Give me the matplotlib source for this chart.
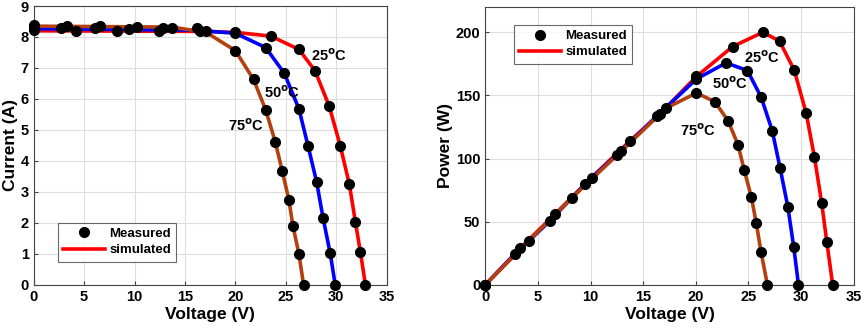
import numpy as np
import matplotlib
matplotlib.use("Agg")
import matplotlib.pyplot as plt

plt.rcParams['font.family'] = ['Liberation Sans', 'DejaVu Sans']
plt.rcParams['font.weight'] = 'bold'

# ---- I-V data (measured points) ----
v25_m = [0, 3.3, 6.6, 10.2, 13.7, 16.5, 20.0, 23.5, 26.3, 27.9, 29.3, 30.4, 31.3, 31.9, 32.4, 32.9]
i25_m = [8.3, 8.35, 8.35, 8.32, 8.3, 8.2, 8.15, 8.03, 7.6, 6.91, 5.77, 4.49, 3.25, 2.03, 1.05, 0]
v50_m = [0, 2.7, 6.05, 9.4, 12.8, 16.2, 20.0, 23.0, 24.85, 26.3, 27.2, 28.05, 28.7, 29.4, 29.9]
i50_m = [8.22, 8.28, 8.28, 8.25, 8.3, 8.28, 8.12, 7.66, 6.83, 5.68, 4.49, 3.33, 2.15, 1.02, 0]
v75_m = [0, 4.2, 8.3, 12.4, 17.1, 20.0, 21.8, 23.0, 23.95, 24.65, 25.3, 25.7, 26.3, 26.76]
i75_m = [8.4, 8.2, 8.18, 8.18, 8.18, 7.56, 6.63, 5.65, 4.62, 3.67, 2.75, 1.91, 1.0, 0]

# ---- I-V simulated ----
v25_s = [0, 17, 20, 23.5, 26.3, 27.9, 29.3, 30.4, 31.3, 31.9, 32.4, 32.9]
i25_s = [8.2, 8.18, 8.15, 8.03, 7.6, 6.91, 5.77, 4.49, 3.25, 2.03, 1.05, 0]
v50_s = [0, 16, 20, 23.0, 24.85, 26.3, 27.2, 28.05, 28.7, 29.4, 29.9]
i50_s = [8.27, 8.22, 8.12, 7.66, 6.83, 5.68, 4.49, 3.33, 2.15, 1.02, 0]
v75_s = [0, 13.7, 17.1, 20.0, 21.8, 23.0, 23.95, 24.65, 25.3, 25.7, 26.3, 26.76]
i75_s = [8.35, 8.32, 8.15, 7.56, 6.63, 5.65, 4.62, 3.67, 2.75, 1.91, 1.0, 0]

# ---- P-V data ----
v25_p = [0, 3.3, 6.6, 10.1, 13.7, 16.6, 20.06, 23.5, 26.37, 27.95, 29.35, 30.48, 31.27, 31.96, 32.44, 33.0]
p25_p = [0, 29, 55.8, 85, 113.7, 135.5, 165, 188.7, 200, 193, 170, 136, 101, 64.5, 34, 0]
v50_p = [0, 2.84, 6.16, 9.5, 12.86, 16.27, 20.06, 22.87, 24.9, 26.2, 27.26, 28.0, 28.74, 29.3, 29.75]
p50_p = [0, 24.5, 50.8, 80, 105.8, 133.4, 163, 175.8, 169.7, 148.7, 122, 92.6, 61.8, 30, 0]
v75_p = [0, 4.14, 8.2, 12.5, 17.2, 20.06, 21.8, 23.06, 24.0, 24.6, 25.27, 25.74, 26.2, 26.8]
p75_p = [0, 35, 68.7, 102.6, 140, 152, 145, 130, 111, 90.8, 69.7, 49, 25.8, 0]

colors = ['#ff0000', '#0000ff', '#b3400e']
labels = ['25', '50', '75']

fig = plt.figure(figsize=(8.65, 3.34), dpi=100)
ax1 = fig.add_axes([0.039, 0.147, 0.408, 0.835])
ax2 = fig.add_axes([0.561, 0.147, 0.426, 0.832])

lw = 2.6
ms = 7

def style(ax):
    ax.grid(True, color='#dddddd', linewidth=0.8)
    ax.set_axisbelow(True)
    ax.tick_params(direction='in', labelsize=10.5, length=3, color='#444444')
    for s in ax.spines.values():
        s.set_color('#444444')
        s.set_linewidth(0.8)
    for t in ax.get_xticklabels() + ax.get_yticklabels():
        t.set_fontweight('bold')

# I-V
sim = [(v25_s, i25_s), (v50_s, i50_s), (v75_s, i75_s)]
meas = [(v25_m, i25_m), (v50_m, i50_m), (v75_m, i75_m)]
for (vs, is_), c in zip(sim, colors):
    ax1.plot(vs, is_, color=c, lw=lw, zorder=2)
for vm, im in meas:
    ax1.plot(vm, im, 'o', color='black', ms=ms, zorder=3, clip_on=False)
ax1.set_xlim(0, 35)
ax1.set_ylim(0, 9)
ax1.set_xticks(np.arange(0, 36, 5))
ax1.set_yticks(np.arange(0, 10, 1))
ax1.set_xlabel('Voltage (V)', fontsize=12.5, fontweight='bold', labelpad=2)
ax1.set_ylabel('Current (A)', fontsize=12.5, fontweight='bold', labelpad=2)
ax1.text(27.5, 7.4, r'25$^{\mathbf{o}}$C', fontsize=10.5, fontweight='bold', va='center')
ax1.text(22.8, 6.2, r'50$^{\mathbf{o}}$C', fontsize=10.5, fontweight='bold', va='center')
ax1.text(19.3, 5.15, r'75$^{\mathbf{o}}$C', fontsize=10.5, fontweight='bold', va='center')
style(ax1)
h1, = ax1.plot([], [], 'o', color='black', ms=ms)
h2, = ax1.plot([], [], color='#ff0000', lw=lw)
leg = ax1.legend([h1, h2], ['Measured', 'simulated'], loc='lower left',
                 bbox_to_anchor=(0.05, 0.06), fancybox=False, edgecolor='#444444',
                 handlelength=3.2, prop={'weight': 'bold', 'size': 9.5},
                 borderpad=0.4, labelspacing=0.3, handletextpad=0.3)
leg.get_frame().set_linewidth(0.8)

# P-V
psets = [(v25_p, p25_p), (v50_p, p50_p), (v75_p, p75_p)]
for (vp, pp), c in zip(psets, colors):
    ax2.plot(vp, pp, color=c, lw=lw, zorder=2)
for vp, pp in psets:
    ax2.plot(vp, pp, 'o', color='black', ms=ms, zorder=3, clip_on=False)
ax2.set_xlim(0, 35)
ax2.set_ylim(0, 220)
ax2.set_xticks(np.arange(0, 36, 5))
ax2.set_yticks(np.arange(0, 201, 50))
ax2.set_xlabel('Voltage (V)', fontsize=12.5, fontweight='bold', labelpad=2)
ax2.set_ylabel('Power (W)', fontsize=12.5, fontweight='bold', labelpad=2)
ax2.text(24.6, 180, r'25$^{\mathbf{o}}$C', fontsize=10.5, fontweight='bold', va='center')
ax2.text(21.5, 159, r'50$^{\mathbf{o}}$C', fontsize=10.5, fontweight='bold', va='center')
ax2.text(18.5, 122, r'75$^{\mathbf{o}}$C', fontsize=10.5, fontweight='bold', va='center')
style(ax2)
g1, = ax2.plot([], [], 'o', color='black', ms=ms)
g2, = ax2.plot([], [], color='#ff0000', lw=lw)
leg2 = ax2.legend([g1, g2], ['Measured', 'simulated'], loc='upper left',
                  bbox_to_anchor=(0.06, 0.96), fancybox=False, edgecolor='#444444',
                  handlelength=3.2, prop={'weight': 'bold', 'size': 9.5},
                  borderpad=0.4, labelspacing=0.3, handletextpad=0.3)
leg2.get_frame().set_linewidth(0.8)

fig.savefig('out.png', dpi=100)
